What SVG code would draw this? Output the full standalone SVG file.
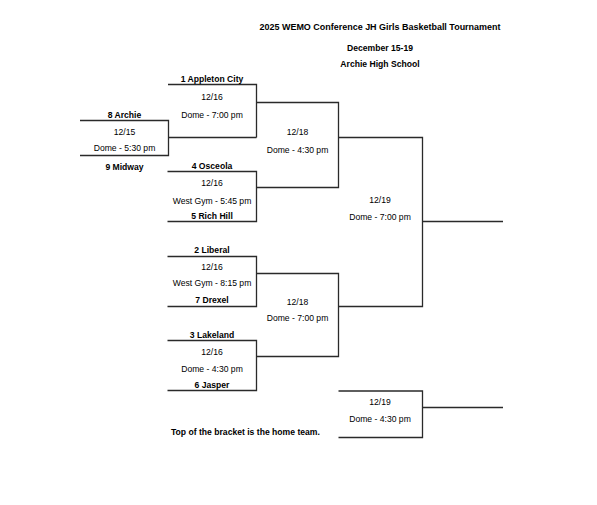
<svg xmlns="http://www.w3.org/2000/svg" width="597" height="505" viewBox="0 0 597 505">
<style>
.ln{fill:none;stroke:#2a2a2a;stroke-width:1.3}
text{font-family:"Liberation Sans",Arial,sans-serif;font-size:8.6px;fill:#000;text-anchor:middle}
.b{font-weight:bold}
.l{text-anchor:start}
</style>
<rect width="597" height="505" fill="#fff"/>
<g id="header">
<text class="b" x="380" y="30" font-size="9" textLength="241" lengthAdjust="spacingAndGlyphs">2025 WEMO Conference JH Girls Basketball Tournament</text>
<text class="b" x="380" y="50.5">December 15-19</text>
<text class="b" x="380" y="67.3">Archie High School</text>
</g>
<g id="game-archie-midway">
<path class="ln" d="M80,120.5 H168.5 V155.5 H80"/>
<text class="b" x="124.5" y="117.5">8 Archie</text>
<text x="124.5" y="134.7">12/15</text>
<text x="124.5" y="151">Dome - 5:30 pm</text>
<text class="b" x="124.5" y="169.5">9 Midway</text>
</g>
<g id="game-appleton">
<path class="ln" d="M168,84.5 H256.5 V137.5"/>
<text class="b" x="212" y="82">1 Appleton City</text>
<text x="212" y="100.3">12/16</text>
<text x="212" y="118.3">Dome - 7:00 pm</text>
</g>
<g id="game-osceola-richhill">
<path class="ln" d="M167.5,171.5 H256.5 V221.5 H167.5"/>
<text class="b" x="212" y="169">4 Osceola</text>
<text x="212" y="186.3">12/16</text>
<text x="212" y="203.5">West Gym - 5:45 pm</text>
<text class="b" x="212" y="219">5 Rich Hill</text>
</g>
<g id="game-liberal-drexel">
<path class="ln" d="M167.5,256.5 H256.5 V306.5 H167.5"/>
<text class="b" x="212" y="253">2 Liberal</text>
<text x="212" y="269.7">12/16</text>
<text x="212" y="286.3">West Gym - 8:15 pm</text>
<text class="b" x="212" y="303.3">7 Drexel</text>
</g>
<g id="game-lakeland-jasper">
<path class="ln" d="M167.5,340.5 H256.5 V390.5 H167.5"/>
<text class="b" x="212" y="337.8">3 Lakeland</text>
<text x="212" y="355.3">12/16</text>
<text x="212" y="372">Dome - 4:30 pm</text>
<text class="b" x="212" y="388.3">6 Jasper</text>
</g>
<g id="semi-upper">
<path class="ln" d="M256.5,102.5 H338.5 V187.5 H256.5"/>
<text x="297.5" y="135.3">12/18</text>
<text x="297.5" y="153">Dome - 4:30 pm</text>
</g>
<g id="semi-lower">
<path class="ln" d="M256.5,273.5 H338.5 V356.5 H256.5"/>
<text x="297.5" y="304.7">12/18</text>
<text x="297.5" y="321.3">Dome - 7:00 pm</text>
</g>
<g id="final">
<path class="ln" d="M338.5,137.5 H422.5 V306.5 H338.5"/>
<text x="380" y="203">12/19</text>
<text x="380" y="219.7">Dome - 7:00 pm</text>
</g>
<g id="third-place">
<path class="ln" d="M338.5,391 H422.5 V437.5 H338.5"/>
<text x="380" y="405">12/19</text>
<text x="380" y="422">Dome - 4:30 pm</text>
</g>
<g id="connectors">
<path class="ln" d="M168.5,137.5 H256.5"/>
<path class="ln" d="M422.5,221.5 H503"/>
<path class="ln" d="M422.5,407.5 H503"/>
</g>
<g id="note">
<text class="b l" x="171" y="435.3">Top of the bracket is the home team.</text>
</g>
</svg>
